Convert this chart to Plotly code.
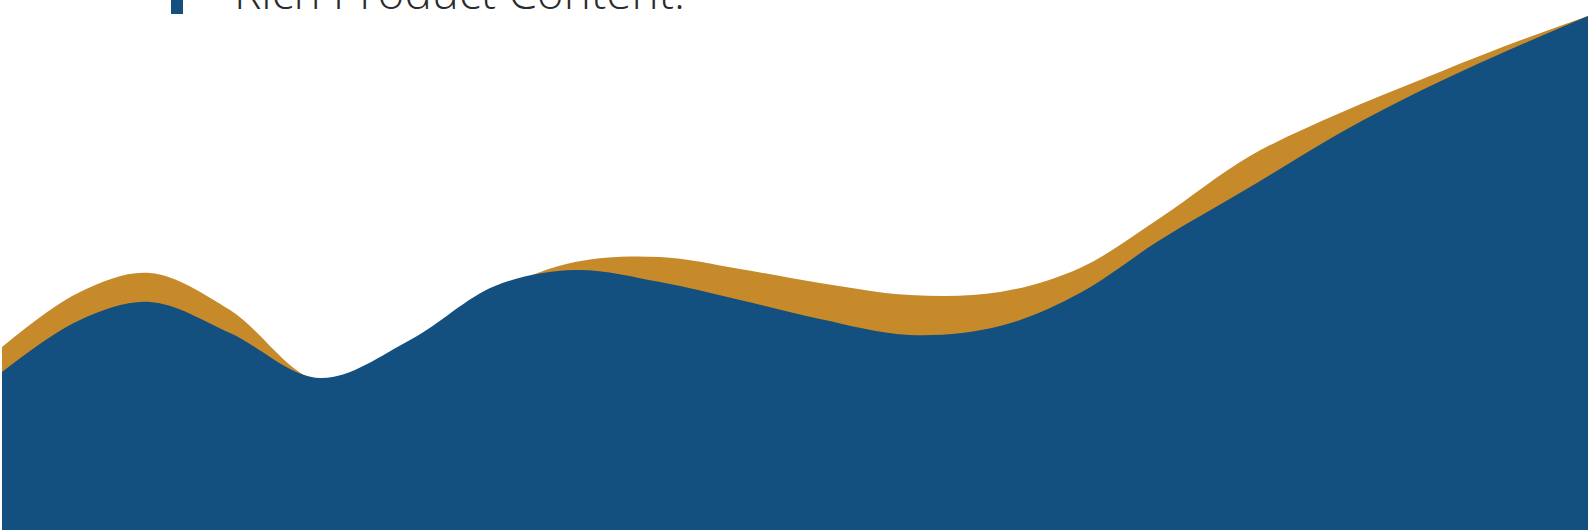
import plotly.graph_objects as go

# Series values (x: horizontal position units, y: value units)
x_pos = [2, 80, 150, 230, 320, 410, 495, 575, 660, 740, 820, 910, 1000, 1080, 1160,
         1250, 1340, 1420, 1500, 1588]
blue_y = [158, 210, 228, 197, 152, 190, 244, 260, 248, 230, 211, 195, 204, 237, 290,
          343, 397, 439, 476, 514]
gold_y = [183, 238, 257, 220, 149, 182, 238, 268, 273, 261, 247, 235, 238, 262, 312,
          374, 417, 450, 482, 514]

series_names = ["Other Content", "Rich Product Content."]
gold = "#C78A2B"
blue = "#13507F"

fig = go.Figure()
fig.add_trace(go.Scatter(x=x_pos, y=gold_y, mode="lines", name=series_names[0],
                         line=dict(shape="spline", smoothing=1.0, color=gold, width=0),
                         fill="tozeroy", fillcolor=gold, showlegend=False, hoverinfo="skip"))
fig.add_trace(go.Scatter(x=x_pos, y=blue_y, mode="lines", name=series_names[1],
                         line=dict(shape="spline", smoothing=1.0, color=blue, width=0),
                         fill="tozeroy", fillcolor=blue, showlegend=False, hoverinfo="skip"))

# legend-like label (top, partially cut off)
fig.add_annotation(x=232 / 1588, y=1 - 24 / 530, xref="paper", yref="paper",
                   xanchor="left", yanchor="bottom",
                   text=series_names[1], showarrow=False,
                   font=dict(family="Open Sans", size=46, color="#2b2b2b", weight=300))
fig.add_shape(type="rect", x0=171, x1=183, y0=516, y1=534, xref="x", yref="y",
              fillcolor=blue, line=dict(width=0))

fig.update_layout(
    width=1588, height=530,
    margin=dict(l=0, r=0, t=0, b=0, pad=0, autoexpand=False),
    paper_bgcolor="white", plot_bgcolor="white",
    xaxis=dict(range=[0, 1588], visible=False, fixedrange=True),
    yaxis=dict(range=[0, 530], visible=False, fixedrange=True),
    showlegend=False,
)
fig.write_html("out.html", config={"displayModeBar": False},
               post_script="document.body.style.margin='0';document.body.style.overflow='hidden';")
